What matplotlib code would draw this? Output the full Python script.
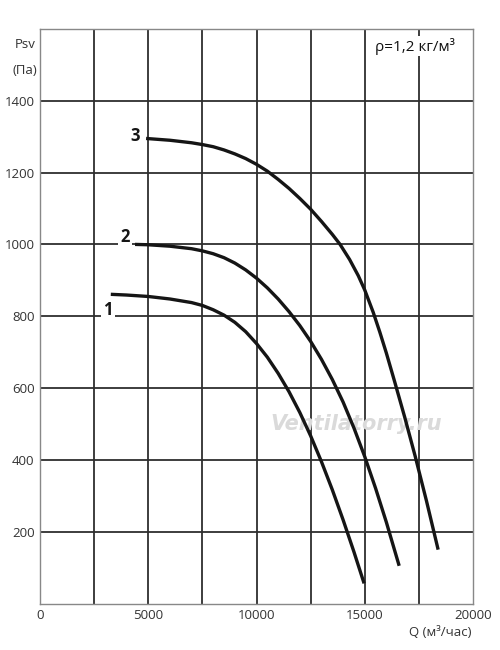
import matplotlib
matplotlib.use('Agg')
from matplotlib import pyplot as plt

# fan curves (Q in m3/h, Psv in Pa)
q1 = [3270, 4000, 5000, 6000, 7000, 7500, 8000, 8500, 9000, 9500, 10000, 10500, 11000, 11500,
      12000, 12500, 13000, 13500, 14000, 14500, 14970]
p1 = [861, 859, 855, 848, 838, 830, 818, 803, 783, 757, 724, 686, 641, 590,
      532, 467, 395, 317, 233, 144, 56]

q2 = [4390, 5000, 6000, 7000, 7500, 8000, 8500, 9000, 9500, 10000, 10500, 11000, 11500, 12000,
      12500, 13000, 13500, 14000, 14500, 15000, 15500, 16000, 16170, 16590]
p2 = [1000, 999, 995, 988, 982, 974, 963, 948, 929, 906, 879, 848, 813, 774,
      730, 680, 624, 561, 489, 409, 321, 226, 191, 105]

q3 = [4900, 6000, 7000, 7500, 8000, 8500, 9000, 9500, 10000, 10500, 11000, 11500, 12000, 12500,
      13000, 13500, 13860, 14300, 14700, 15000, 15390, 15700, 16000, 16380, 16850, 17330, 17850, 18390]
p3 = [1295, 1290, 1283, 1278, 1272, 1263, 1252, 1239, 1223, 1204, 1181, 1156, 1128, 1098,
      1064, 1028, 1000, 958, 913, 873, 811, 755, 697, 618, 518, 410, 286, 150]

curve_labels = ['1', '2', '3']
label_pos = [(3140, 816), (3930, 1020), (4390, 1301)]

xticks = [0, 5000, 10000, 15000, 20000]
yticks = [200, 400, 600, 800, 1000, 1200, 1400]

if __name__ == '__main__':
    plt.rcParams['font.family'] = ['Open Sans', 'DejaVu Sans']

    fig = plt.figure(figsize=(5, 6.5), dpi=100)
    ax = fig.add_axes([0.08, 0.0715, 0.866, 0.884])

    ax.set_xlim(0, 20000)
    ax.set_ylim(0, 1600)

    for x in range(2500, 20000, 2500):
        ax.axvline(x, color='#2e2e2e', lw=1.3, zorder=1)
    for y in yticks:
        ax.axhline(y, color='#2e2e2e', lw=1.3, zorder=1)

    ax.plot(q1, p1, color='#151515', lw=2.4, solid_capstyle='butt', solid_joinstyle='round', zorder=3)
    ax.plot(q2, p2, color='#151515', lw=2.4, solid_capstyle='butt', solid_joinstyle='round', zorder=3)
    ax.plot(q3, p3, color='#151515', lw=2.4, solid_capstyle='butt', solid_joinstyle='round', zorder=3)

    for lab, (x, y) in zip(curve_labels, label_pos):
        ax.text(x, y, lab, fontsize=12, fontweight='bold', ha='center', va='center',
                color='#151515', zorder=4,
                bbox=dict(facecolor='white', edgecolor='none', pad=1.5))

    # watermark
    ax.text(14600, 500, 'Ventilatorry.ru', fontsize=15, style='italic', fontweight='bold',
            family='DejaVu Sans', color='#dadada', ha='center', va='center', zorder=2)

    ax.text(17330, 1552, 'ρ=1,2 кг/м³', fontsize=11, ha='center', va='center', zorder=4,
            color='#111111', bbox=dict(facecolor='white', edgecolor='none', pad=1))

    ax.set_xticks(xticks)
    ax.set_yticks(yticks)
    ax.tick_params(length=0, labelsize=9.5, colors='#333333', pad=4)
    for s in ax.spines.values():
        s.set_color('#888888')
        s.set_linewidth(1)

    fig.text(0.05, 0.931, 'Psv', fontsize=9.5, ha='center', va='center', color='#333333')
    fig.text(0.05, 0.892, '(Па)', fontsize=9.5, ha='center', va='center', color='#333333')
    fig.text(0.88, 0.027, 'Q (м³/час)', fontsize=9.5, ha='center', va='center', color='#333333')

    plt.savefig('out.png', dpi=100)
